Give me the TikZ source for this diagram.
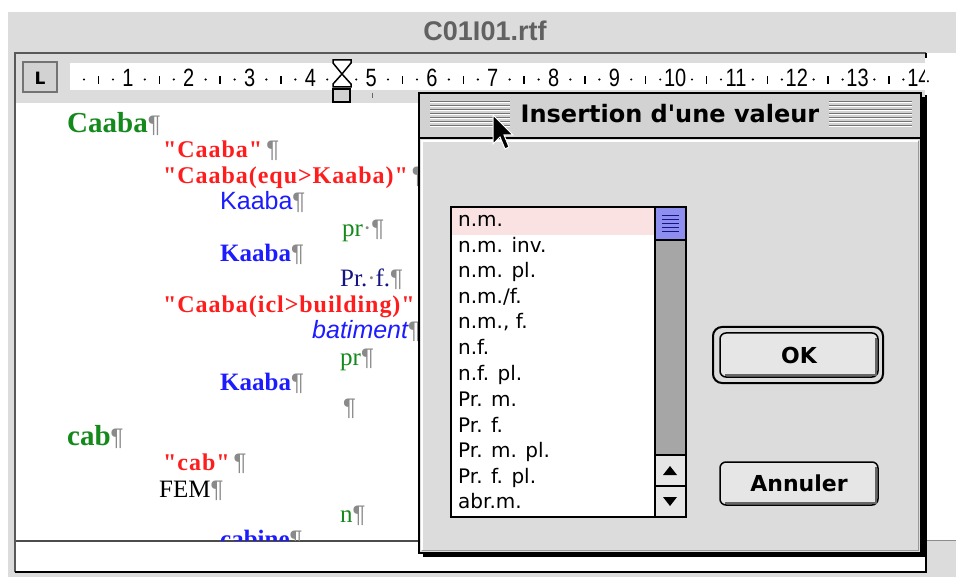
\documentclass[tikz,border=0pt]{standalone}
\usepackage{fontspec}
\setmainfont{Liberation Serif}[Ligatures=TeXOff]
\newfontfamily\redserif{Liberation Serif}[Ligatures=TeXOff,LetterSpace=4]
\newfontfamily\macsans{Liberation Sans}
\newfontfamily\macnarrow{Liberation Sans}[FakeStretch=0.8]
\newfontfamily\chicago{DejaVu Sans}[Ligatures=TeXOff]
\usetikzlibrary{positioning}
\definecolor{winGray}{HTML}{DCDCDC}
\definecolor{barGray}{HTML}{D2D2D2}
\definecolor{btnGray}{HTML}{E6E6E6}
\definecolor{lemGreen}{HTML}{14891C}
\definecolor{sensRed}{HTML}{FF1C1C}
\definecolor{wordBlue}{HTML}{1C1CFF}
\definecolor{catNavy}{HTML}{141482}
\definecolor{pilGray}{HTML}{8A8A8A}
\definecolor{thumbBlue}{HTML}{8E8EF0}
\definecolor{rowPink}{HTML}{FAE2E2}
\definecolor{trackGray}{HTML}{A6A6A6}
\newcommand{\pil}{{\color{pilGray}\macsans\mdseries\upshape\fontsize{24}{24}\selectfont ¶}}
\newcommand{\spc}{{\color{pilGray}·}}

\begin{document}
\begin{tikzpicture}[
    x=1pt, y=-1pt,
    txt/.style={anchor=base west, inner sep=0pt},
    lemma/.style={txt, text=lemGreen, font=\fontsize{29}{29}\selectfont\bfseries},
    sens/.style={txt, text=sensRed, font=\redserif\fontsize{24}{24}\selectfont\bfseries},
    motsans/.style={txt, text=wordBlue, font=\macsans\fontsize{25}{25}\selectfont},
    motbold/.style={txt, text=wordBlue, font=\fontsize{25}{25}\selectfont\bfseries},
    cat/.style={txt, text=lemGreen, font=\fontsize{25}{25}\selectfont},
    rulenum/.style={anchor=base, inner sep=0pt, font=\macnarrow\fontsize{25}{25}\selectfont},
    item/.style={anchor=west, inner sep=0pt, text height=14pt, text depth=4pt,
      font=\chicago\fontsize{20}{20}\selectfont},
    button/.style={draw, line width=1.5pt, rounded corners=6pt, fill=btnGray,
      font=\chicago\bfseries\fontsize{22}{22}\selectfont},
  ]

    \useasboundingbox (0,0) rectangle (956,577);
    \fill[white] (0,0) rectangle (956,577);
    \fill[winGray] (8,12) rectangle (956,577);
    \node[text=black!62, font=\macsans\bfseries\fontsize{27}{27}\selectfont] (wtitle) at (485,31) {C01I01.rtf};

    \fill[white] (927,53) rectangle (956,540);
    \draw[black!45] (927,540) -- (956,540);
    \fill[winGray] (16,54) rectangle (925,103);
    \fill[white] (70,63) rectangle (925,90);
    \fill[white] (16,103) rectangle (925,572);
    \draw[black!70, line width=2pt] (16,541) -- (925,541);
    \draw[black!65, line width=1.5pt] (15,572) -- (15,53) -- (926,53);
    \draw[black, line width=2pt] (926,53) -- (926,572) -- (15,572);

    \draw[black!55, line width=1.5pt, fill=barGray] (23,62) rectangle (57,92);
    \node[font=\chicago\bfseries\fontsize{17}{17}\selectfont] (tabL) at (40,78) {L};

    \foreach \n in {1,...,14} {
      \pgfmathsetmacro\rx{128+60.8*(\n-1)}
      \node[rulenum] (r\n) at (\rx,87) {\n};
      \fill (\rx-44,79.5) circle[radius=1.2pt];
      \draw[line width=1.3pt] (\rx-29.5,76) -- (\rx-29.5,84);
      \fill (\rx-15,79.5) circle[radius=1.2pt];
    }
    \fill[white] (925,58) rectangle (927,95);
    \draw[line width=1.5pt, fill=white] (333,60) -- (351,60) -- (351,63) -- (342,74)
      -- (351,84) -- (351,87) -- (333,87) -- (333,84) -- (342,74) -- (333,63) -- cycle;
    \draw[line width=1.5pt, fill=barGray] (333,89) rectangle (350,102);
    \draw[black!60, line width=1pt] (372,93) -- (372,98);

    \begin{scope}
      \clip (17,103) rectangle (925,540);
      \node[lemma] (caaba) at (67,133) {Caaba\pil};
      \node[sens] (s1) at (163,158) {"Caaba"\,\pil};
      \node[sens] (s2) at (163,184) {"Caaba(equ>Kaaba)"\,\pil};
      \node[motsans] (k1) at (220,210) {Kaaba\pil};
      \node[cat] (c1) at (342,237) {pr\spc\pil};
      \node[motbold] (k2) at (220,262) {Kaaba\pil};
      \node[cat, text=catNavy] (c2) at (340,287) {Pr.\spc f.\pil};
      \node[sens] (s3) at (163,313) {"Caaba(icl>building)"\,\pil};
      \node[motsans, font=\macsans\itshape\fontsize{25}{25}\selectfont] (bat) at (312,338) {batiment\pil};
      \node[cat] (c3) at (340,365) {pr\pil};
      \node[motbold] (k3) at (220,390) {Kaaba\pil};
      \node[txt] (empty) at (343,415) {\pil};
      \node[lemma] (cab) at (67,445) {cab\pil};
      \node[sens] (s4) at (163,470) {"cab"\,\pil};
      \node[txt, font=\fontsize{25}{25}\selectfont] (fem) at (159,497) {FEM\pil};
      \node[cat] (c4) at (340,522) {n\pil};
      \node[motbold] (k4) at (220,547) {cabine\pil};
    \end{scope}

    \fill[black] (423,97) rectangle (925,557);
    \draw[line width=1.5pt, fill=winGray] (419,93) rectangle (921,553);
    \draw[line width=1.5pt, fill=barGray] (419,93) rectangle (921,138);
    \foreach \y in {101,105,...,125} {
      \draw[black!55] (430,\y) -- (510,\y);
      \draw[white] (430,\y+1.5) -- (510,\y+1.5);
      \draw[black!55] (829,\y) -- (912,\y);
      \draw[white] (829,\y+1.5) -- (912,\y+1.5);
    }
    \node[font=\chicago\bfseries\fontsize{24}{24}\selectfont] (dtitle) at (670,114) {Insertion d'une valeur};
    \draw[white, line width=1.5pt] (422,550) -- (422,141) -- (918,141);
    \draw[black!40, line width=1pt] (918,141) -- (918,550) -- (422,550);

    \draw[line width=1.5pt, fill=white] (451,207) rectangle (686,517);
    \fill[rowPink] (452,208) rectangle (655,235);
    \draw[line width=1.2pt, fill=trackGray] (655,207) rectangle (686,455);
    \draw[line width=1.2pt, fill=thumbBlue] (655,207) rectangle (686,240);
    \foreach \y in {216,220,224,228,232} {
      \draw[catNavy, line width=1pt] (662,\y) -- (679,\y);
    }
    \draw[line width=1.2pt, fill=btnGray] (655,455) rectangle (686,486);
    \draw[line width=1.2pt, fill=btnGray] (655,486) rectangle (686,517);
    \fill (663,475) -- (677,475) -- (670,466) -- cycle;
    \fill (663,497) -- (677,497) -- (670,506) -- cycle;

    \node[item] (L1) at (458,222) {n.m.};
    \path (L1.west) ++(0,25.5) node [item] (L2) {n.m. inv.};
    \path (L2.west) ++(0,25.5) node [item] (L3) {n.m. pl.};
    \path (L3.west) ++(0,25.5) node [item] (L4) {n.m./f.};
    \path (L4.west) ++(0,25.5) node [item] (L5) {n.m., f.};
    \path (L5.west) ++(0,25.5) node [item] (L6) {n.f.};
    \path (L6.west) ++(0,26.5) node [item] (L7) {n.f. pl.};
    \path (L7.west) ++(0,25.5) node [item] (L8) {Pr. m.};
    \path (L8.west) ++(0,25.5) node [item] (L9) {Pr. f.};
    \path (L9.west) ++(0,25.5) node [item] (L10) {Pr. m. pl.};
    \path (L10.west) ++(0,25.5) node [item] (L11) {Pr. f. pl.};
    \path (L11.west) ++(0,25.5) node [item] (L12) {abr.m.};

    \node[button, line width=2pt, rounded corners=9pt, fill=winGray, minimum width=170pt,
      minimum height=56pt] (okring) at (798,355) {};
    \node[button, minimum width=158pt, minimum height=44pt] (ok) at (799,355) {OK};
    \node[button, minimum width=158pt, minimum height=43pt] (cancel) at (799,483.5) {Annuler};
    \draw[black!60, line width=2pt] ([xshift=6pt,yshift=3pt]ok.south west)
      -- ([xshift=-3pt,yshift=3pt]ok.south east) -- ([xshift=-3pt,yshift=-6pt]ok.north east);
    \draw[black!60, line width=2pt] ([xshift=6pt,yshift=3pt]cancel.south west)
      -- ([xshift=-3pt,yshift=3pt]cancel.south east) -- ([xshift=-3pt,yshift=-6pt]cancel.north east);

    \filldraw[fill=black, draw=white, line width=1pt] (493,115) -- ++(0,29) -- ++(7,-7)
      -- ++(5,12) -- ++(4,-2) -- ++(-5,-12) -- ++(9,0) -- cycle;
\end{tikzpicture}
\end{document}
